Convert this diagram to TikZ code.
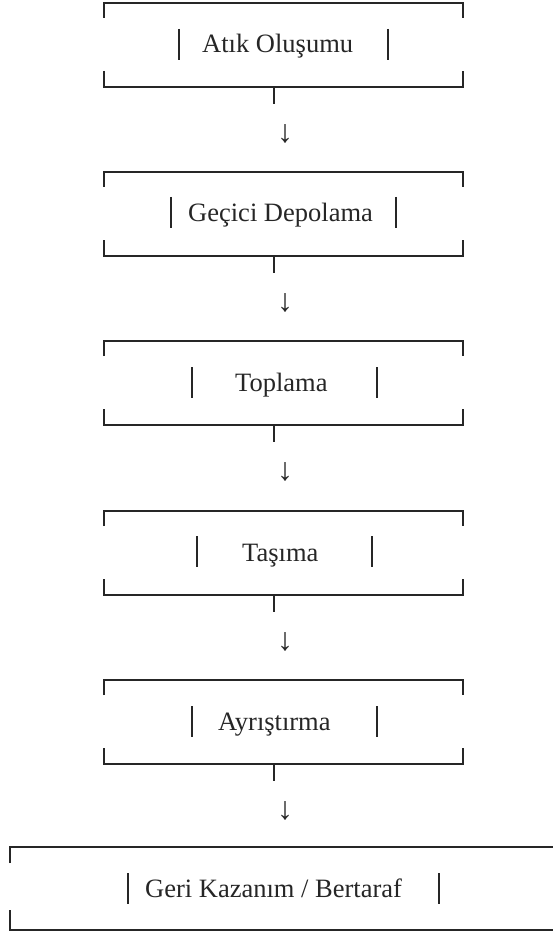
\documentclass[tikz,border=0pt]{standalone}
\usepackage{fontspec}
\setmainfont{Liberation Serif}
\definecolor{ink}{HTML}{262626}
\tikzset{
  frameline/.style={draw=ink, line width=2pt, line cap=butt, line join=miter},
  barline/.style={draw=ink, line width=2pt},
  steplabel/.style={text=ink, font=\fontsize{26.5}{30}\selectfont, inner sep=0pt, anchor=base west},
  downglyph/.style={text=ink, font=\fontsize{32}{36}\selectfont, inner sep=0pt}
}
\begin{document}
\begin{tikzpicture}[x=1pt,y=-1pt]
\useasboundingbox (0,0) rectangle (552,933);
\fill[white] (0,0) rectangle (552,933);
% helper: box frame
\newcommand{\stepframe}[4]{% #1 top, #2 left, #3 right, #4 name
  \draw[frameline] (#2,#1+15) -- (#2,#1) -- (#3,#1) -- (#3,#1+15);
  \draw[frameline] (#2,#1+68) -- (#2,#1+84) -- (#3,#1+84) -- (#3,#1+68);
  \coordinate (#4b) at (274,#1+84);
  \coordinate (#4t) at (274,#1+101);
}
\newcommand{\stepbars}[3]{% #1 top, #2 left bar x, #3 right bar x
  \draw[barline] (#2,#1+26) -- (#2,#1+57);
  \draw[barline] (#3,#1+26) -- (#3,#1+57);
}
% Box 1
\stepframe{3}{104}{463}{s1}
\stepbars{3}{179}{388}
\node[steplabel] (t1) at (202,53) {Atık Oluşumu};
\draw[frameline] (s1b) -- (s1t);
\node[downglyph] (a1) at (285,134) {↓};
% Box 2
\stepframe{172}{104}{463}{s2}
\stepbars{171}{171}{396}
\node[steplabel] (t2) at (188,222) {Geçici Depolama};
\draw[frameline] (s2b) -- (s2t);
\node[downglyph] (a2) at (285,303) {↓};
% Box 3
\stepframe{341}{104}{463}{s3}
\stepbars{341}{192}{377}
\node[steplabel] (t3) at (235,391) {Toplama};
\draw[frameline] (s3b) -- (s3t);
\node[downglyph] (a3) at (285,472) {↓};
% Box 4
\stepframe{511}{104}{463}{s4}
\stepbars{510}{197}{372}
\node[steplabel] (t4) at (242,561) {Taşıma};
\draw[frameline] (s4b) -- (s4t);
\node[downglyph] (a4) at (285,642) {↓};
% Box 5
\stepframe{680}{104}{463}{s5}
\stepbars{680}{192}{377}
\node[steplabel] (t5) at (218,730) {Ayrıştırma};
\draw[frameline] (s5b) -- (s5t);
\node[downglyph] (a5) at (285,811) {↓};
% Box 6
\draw[frameline] (10,863) -- (10,847) -- (570,847);
\draw[frameline] (10,910) -- (10,930) -- (570,930);
\stepbars{847}{128}{439}
\node[steplabel] (t6) at (145,897) {Geri Kazanım / Bertaraf};
\end{tikzpicture}
\end{document}
